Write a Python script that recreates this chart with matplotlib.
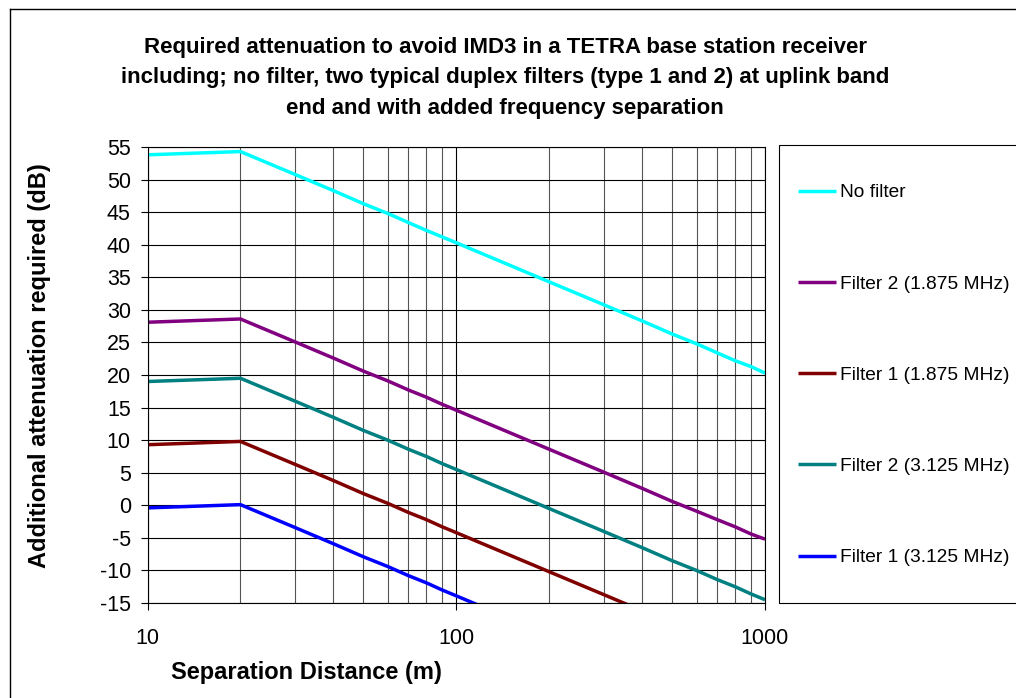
import matplotlib
matplotlib.use('Agg')
import matplotlib.pyplot as plt
from matplotlib.patches import Rectangle
from matplotlib.lines import Line2D
from matplotlib.ticker import FixedLocator, NullFormatter

plt.rcParams['font.family'] = ['Liberation Sans', 'DejaVu Sans']
plt.rcParams['axes.unicode_minus'] = False

# separation distance (m)
distance = [10, 20, 30, 40, 50, 60, 70, 80, 90, 100,
            200, 300, 400, 500, 600, 700, 800, 900, 1000]

no_filter = [53.8, 54.3, 50.8, 48.3, 46.3, 44.8, 43.4, 42.2, 41.2, 40.3,
             34.3, 30.8, 28.3, 26.3, 24.8, 23.4, 22.2, 21.3, 20.3]
filter2_1875 = [28.1, 28.6, 25.1, 22.6, 20.6, 19.1, 17.7, 16.6, 15.5, 14.6,
                8.6, 5.1, 2.6, 0.6, -0.9, -2.2, -3.3, -4.4, -5.2]
filter1_1875 = [9.3, 9.8, 6.3, 3.8, 1.8, 0.3, -1.1, -2.2, -3.3, -4.2,
                -10.2, -13.7, -16.2]
filter2_3125 = [19.0, 19.5, 16.0, 13.5, 11.5, 10.0, 8.6, 7.5, 6.4, 5.5,
                -0.5, -4.0, -6.5, -8.5, -10.0, -11.4, -12.5, -13.6, -14.5]
filter1_3125 = [-0.4, 0.1, -3.4, -5.9, -7.9, -9.4, -10.8, -11.9, -13.0, -13.9,
                -19.9]

series = [
    ('No filter', no_filter, '#00FFFF'),
    ('Filter 2 (1.875 MHz)', filter2_1875, '#800080'),
    ('Filter 1 (1.875 MHz)', filter1_1875, '#800000'),
    ('Filter 2 (3.125 MHz)', filter2_3125, '#008080'),
    ('Filter 1 (3.125 MHz)', filter1_3125, '#0000FF'),
]

W, H = 1016, 698
fig = plt.figure(figsize=(W / 100, H / 100), dpi=100)
ax = fig.add_axes([147.5 / W, 1 - 603 / H, (765 - 147.5) / W, (603 - 147) / H])

for label, vals, color in series:
    ax.plot(distance[:len(vals)], vals, color=color, lw=2.5, label=label,
            solid_capstyle='butt')

ax.set_xscale('log')
ax.set_xlim(10, 1000)
ax.set_ylim(-15, 55)
ax.set_yticks(range(-15, 56, 5))
ax.set_xticks([10, 100, 1000])
ax.set_xticklabels(['10', '100', '1000'])
ax.xaxis.set_minor_locator(FixedLocator([m * d for d in (10, 100) for m in range(2, 10)]))
ax.xaxis.set_minor_formatter(NullFormatter())
ax.tick_params(axis='x', which='minor', length=0)
ax.tick_params(axis='both', which='major', length=5, width=0.8, labelsize=15.5,
               direction='out')
ax.tick_params(axis='y', pad=7)
ax.tick_params(axis='x', pad=13)

ax.grid(True, which='major', axis='both', color='black', lw=0.8)
ax.grid(True, which='minor', axis='x', color='#555555', lw=0.8)
ax.set_axisbelow(True)
for s in ax.spines.values():
    s.set_linewidth(0.8)
    s.set_color('black')

fig.text(505 / W, 1 - 78 / H,
         'Required attenuation to avoid IMD3 in a TETRA base station receiver\n'
         'including; no filter, two typical duplex filters (type 1 and 2) at uplink band\n'
         'end and with added frequency separation',
         ha='center', va='center', fontsize=16, fontweight='bold', linespacing=1.62)
fig.text(40 / W, 1 - 366 / H, 'Additional attenuation required (dB)',
         rotation=90, ha='center', va='center', fontsize=17, fontweight='bold')
fig.text(306 / W, 1 - 673 / H, 'Separation Distance (m)',
         ha='center', va='center', fontsize=17, fontweight='bold')

# chart border and legend box
fig.add_artist(Line2D([10 / W, 10 / W], [0, 1 - 9 / H], transform=fig.transFigure,
                      color='black', lw=1))
fig.add_artist(Line2D([10 / W, 1], [1 - 9 / H, 1 - 9 / H], transform=fig.transFigure,
                      color='black', lw=1))
fig.add_artist(Rectangle((779 / W, 1 - 603 / H), 300 / W, (603 - 145) / H,
                         transform=fig.transFigure, fill=False, ec='black', lw=0.8))

fig.legend(loc='upper left', bbox_to_anchor=(798 / W, 1 - 184 / H), frameon=False,
           fontsize=13.8, handlelength=2.0, handletextpad=0.2, labelspacing=3.85,
           borderaxespad=0, borderpad=0)

fig.savefig('out.png', dpi=100)
